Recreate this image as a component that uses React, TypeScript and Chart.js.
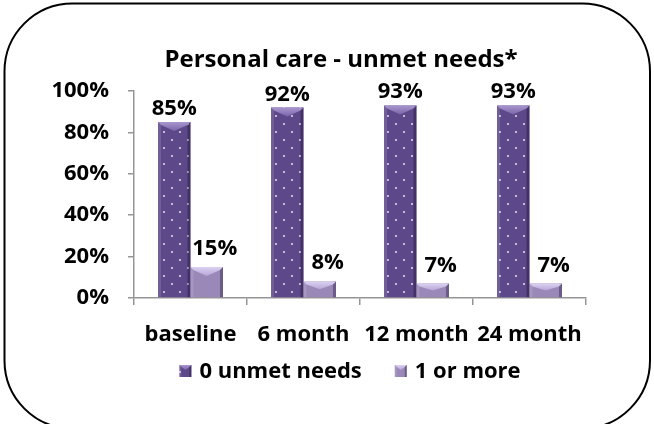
import React, { useEffect, useRef } from "react";
import { Chart, registerables } from "chart.js";

Chart.register(...registerables);

const categories = ["baseline", "6 month", "12 month", "24 month"];
const noUnmetNeeds = [85, 92, 93, 93];
const oneOrMore = [15, 8, 7, 7];
const seriesNames = ["0 unmet needs", "1 or more"];
const yTicks = [0, 20, 40, 60, 80, 100];
const titleText = "Personal care - unmet needs*";

const FONT = "'Open Sans', 'Noto Sans', sans-serif";
const DARK = "#5d4989";
const LIGHT = "#9a88b9";
const BEVEL_TOP = ["#a996cf", "#dcd1f2"];
const BEVEL_LOW = ["#7a65a8", "#b6a6d5"];

function dottedPattern(): CanvasPattern | string {
  const tile = document.createElement("canvas");
  tile.width = 16;
  tile.height = 16;
  const c = tile.getContext("2d");
  if (!c) return DARK;
  c.fillStyle = DARK;
  c.fillRect(0, 0, 16, 16);
  c.fillStyle = "#ddd3f0";
  for (const [px, py] of [
    [4, 4],
    [12, 12],
  ]) {
    c.beginPath();
    c.arc(px, py, 1.1, 0, Math.PI * 2);
    c.fill();
  }
  const p = c.createPattern(tile, "repeat");
  return p || DARK;
}

// Pyramid-like bevel on top of a box, with side shading
function drawBevel(ctx: CanvasRenderingContext2D, l: number, top: number, w: number, h: number, di: number, depth: number) {
  const r = l + w;
  const x = l + w / 2;
  const d = Math.min(depth, h / 2);
  const e = Math.min(3, w / 6);
  ctx.fillStyle = "rgba(255,255,255,0.12)";
  ctx.fillRect(l, top, e, h);
  ctx.fillStyle = "rgba(20,10,40,0.35)";
  ctx.fillRect(r - e, top, e, h);
  const g = ctx.createLinearGradient(0, top, 0, top + d);
  g.addColorStop(0, BEVEL_TOP[di]);
  g.addColorStop(1, BEVEL_LOW[di]);
  ctx.fillStyle = g;
  ctx.beginPath();
  ctx.moveTo(l, top);
  ctx.lineTo(r, top);
  ctx.lineTo(r - e, top + e);
  ctx.lineTo(x, top + d);
  ctx.lineTo(l + e, top + e);
  ctx.closePath();
  ctx.fill();
}

// Rounded frame around the whole chart
const framePlugin = {
  id: "frame",
  beforeDraw(chart: any) {
    const ctx = chart.ctx;
    ctx.save();
    ctx.fillStyle = "#ffffff";
    ctx.fillRect(0, 0, chart.width, chart.height);
    ctx.beginPath();
    ctx.roundRect(4.5, 3.5, 645.5, 425, 68);
    ctx.lineWidth = 2;
    ctx.strokeStyle = "#000000";
    ctx.stroke();
    ctx.restore();
  },
};

// Bevelled look on every bar
const bevelPlugin = {
  id: "bevel",
  afterDatasetsDraw(chart: any) {
    const ctx = chart.ctx;
    chart.data.datasets.forEach((ds: any, di: number) => {
      const meta = chart.getDatasetMeta(di);
      meta.data.forEach((bar: any) => {
        const { x, y, base, width } = bar.getProps(["x", "y", "base", "width"], true);
        ctx.save();
        drawBevel(ctx, x - width / 2, y, width, base - y, di, 9);
        ctx.restore();
      });
    });
  },
};

// Percent labels over the bars
const valueLabelPlugin = {
  id: "valueLabels",
  afterDatasetsDraw(chart: any) {
    const ctx = chart.ctx;
    ctx.save();
    ctx.font = `bold 22px ${FONT}`;
    ctx.fillStyle = "#000000";
    ctx.textAlign = "center";
    ctx.textBaseline = "alphabetic";
    chart.data.datasets.forEach((ds: any, di: number) => {
      const meta = chart.getDatasetMeta(di);
      meta.data.forEach((bar: any, i: number) => {
        const { x, y } = bar.getProps(["x", "y"], true);
        const dx = di === 0 ? 0 : 8;
        const gap = di === 0 ? 7 : 12;
        ctx.fillText(`${ds.data[i]}%`, x + dx, y - gap);
      });
    });
    ctx.restore();
  },
};

// Title above the plot and series key below the category labels
const headerKeyPlugin = {
  id: "headerKey",
  afterDraw(chart: any) {
    const ctx = chart.ctx;
    ctx.save();
    ctx.fillStyle = "#000000";
    ctx.textBaseline = "alphabetic";
    ctx.textAlign = "center";
    ctx.font = `bold 24px ${FONT}`;
    ctx.fillText(titleText, 341, 67);

    ctx.font = `bold 22px ${FONT}`;
    ctx.textAlign = "left";
    const box = 12;
    const textGap = 8;
    const itemGap = 33;
    const widths = chart.data.datasets.map((ds: any) => ctx.measureText(ds.label).width);
    const total = widths.reduce((s: number, w: number) => s + box + textGap + w, 0) + itemGap * (widths.length - 1);
    let cx = 350 - total / 2;
    const boxTop = 365;
    chart.data.datasets.forEach((ds: any, di: number) => {
      ctx.fillStyle = ds.backgroundColor;
      ctx.fillRect(cx, boxTop, box, box);
      drawBevel(ctx, cx, boxTop, box, box, di, 5);
      ctx.fillStyle = "#000000";
      ctx.fillText(ds.label, cx + box + textGap, 378);
      cx += box + textGap + widths[di] + itemGap;
    });
    ctx.restore();
  },
};

export default function App() {
  const ref = useRef<HTMLCanvasElement | null>(null);

  useEffect(() => {
    if (!ref.current) return;
    const chart = new Chart(ref.current, {
      type: "bar",
      data: {
        labels: categories,
        datasets: [
          {
            label: seriesNames[0],
            data: noUnmetNeeds,
            backgroundColor: dottedPattern() as any,
            borderWidth: 0,
            categoryPercentage: 0.575,
            barPercentage: 1,
          },
          {
            label: seriesNames[1],
            data: oneOrMore,
            backgroundColor: LIGHT,
            borderWidth: 0,
            categoryPercentage: 0.575,
            barPercentage: 1,
          },
        ],
      },
      options: {
        responsive: false,
        animation: false,
        events: [],
        layout: { padding: { left: 0, right: 68, top: 91, bottom: 76 } },
        scales: {
          y: {
            min: 0,
            max: 100,
            afterFit(scale: any) {
              scale.width = 134;
            },
            afterBuildTicks(scale: any) {
              scale.ticks = yTicks.map((v) => ({ value: v }));
            },
            ticks: {
              padding: 19,
              color: "#000000",
              font: { family: FONT, size: 22, weight: "bold" },
              callback: (v: any) => `${v}%`,
            },
            grid: {
              drawOnChartArea: false,
              drawTicks: true,
              tickLength: 6,
              color: "#959595",
              lineWidth: 1.5,
            },
            border: { display: true, color: "#959595", width: 1.5 },
          },
          x: {
            afterFit(scale: any) {
              scale.height = 50;
            },
            ticks: {
              padding: 16.4,
              color: "#000000",
              font: { family: FONT, size: 22, weight: "bold" },
              maxRotation: 0,
              autoSkip: false,
            },
            grid: {
              drawOnChartArea: false,
              drawTicks: true,
              tickLength: 7,
              offset: true,
              color: "#959595",
              lineWidth: 1.5,
            },
            border: { display: true, color: "#959595", width: 1.5 },
          },
        },
        plugins: {
          title: { display: false },
          legend: { display: false },
          tooltip: { enabled: false },
        },
      },
      plugins: [framePlugin, bevelPlugin, valueLabelPlugin, headerKeyPlugin],
    });
    return () => chart.destroy();
  }, []);

  return (
    <div style={{ position: "fixed", left: 0, top: 0, width: 654, height: 424 }}>
      <canvas ref={ref} width={654} height={424} style={{ width: 654, height: 424, display: "block" }} />
    </div>
  );
}
